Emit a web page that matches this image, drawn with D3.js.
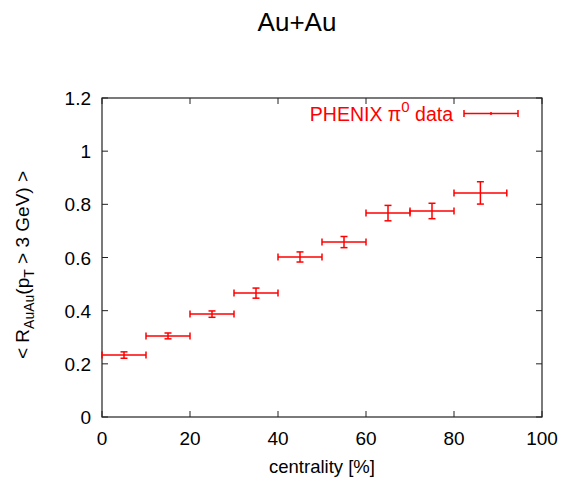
<!DOCTYPE html>
<html><head><meta charset="utf-8">
<script src="https://cdn.jsdelivr.net/npm/d3@7"></script>
<style>body{margin:0;background:#fff}svg{display:block}text{font-family:"Liberation Sans",Arial,sans-serif}</style>
</head><body><svg id="c" width="563" height="477"></svg>
<script>
const xCenter = [5, 15, 25, 35, 45, 55, 65, 75, 86];
const xLow    = [0, 10, 20, 30, 40, 50, 60, 70, 80];
const xHigh   = [10, 20, 30, 40, 50, 60, 70, 80, 92];
const yValue  = [0.233, 0.305, 0.387, 0.466, 0.602, 0.658, 0.767, 0.775, 0.843];
const yError  = [0.012, 0.011, 0.012, 0.019, 0.019, 0.021, 0.029, 0.029, 0.042];
const xTicks = [0, 20, 40, 60, 80, 100];
const yTicks = [0, 0.2, 0.4, 0.6, 0.8, 1, 1.2];

const svg = d3.select("#c");
const L = 102, R = 542, T = 98, B = 417;
const x = d3.scaleLinear().domain([0, 100]).range([L, R]);
const y = d3.scaleLinear().domain([0, 1.2]).range([B, T]);
const frame = "#222";
const red = "#ff0000";

svg.append("rect").attr("x", L).attr("y", T).attr("width", R - L).attr("height", B - T)
  .attr("fill", "none").attr("stroke", frame).attr("stroke-width", 1.2);

const tl = 6;
xTicks.forEach(t => {
  svg.append("line").attr("x1", x(t)).attr("x2", x(t)).attr("y1", B).attr("y2", B - tl).attr("stroke", frame);
  svg.append("line").attr("x1", x(t)).attr("x2", x(t)).attr("y1", T).attr("y2", T + tl).attr("stroke", frame);
  svg.append("text").attr("x", x(t)).attr("y", B + 28).attr("text-anchor", "middle")
    .attr("font-size", 19).attr("fill", "#000").text(t);
});
yTicks.forEach(t => {
  svg.append("line").attr("x1", L).attr("x2", L + tl).attr("y1", y(t)).attr("y2", y(t)).attr("stroke", frame);
  svg.append("line").attr("x1", R).attr("x2", R - tl).attr("y1", y(t)).attr("y2", y(t)).attr("stroke", frame);
  svg.append("text").attr("x", L - 11).attr("y", y(t) + 7).attr("text-anchor", "end")
    .attr("font-size", 19).attr("fill", "#000").text(t);
});

const g = svg.append("g").attr("stroke", red).attr("stroke-width", 1.5).attr("fill", "none");
const cap = 3.5;
xCenter.forEach((xc, i) => {
  const yv = y(yValue[i]);
  g.append("line").attr("x1", x(xLow[i])).attr("x2", x(xHigh[i])).attr("y1", yv).attr("y2", yv);
  g.append("line").attr("x1", x(xLow[i])).attr("x2", x(xLow[i])).attr("y1", yv - cap).attr("y2", yv + cap);
  g.append("line").attr("x1", x(xHigh[i])).attr("x2", x(xHigh[i])).attr("y1", yv - cap).attr("y2", yv + cap);
  const y1 = y(yValue[i] - yError[i]), y2 = y(yValue[i] + yError[i]);
  g.append("line").attr("x1", x(xc)).attr("x2", x(xc)).attr("y1", y1).attr("y2", y2);
  g.append("line").attr("x1", x(xc) - cap).attr("x2", x(xc) + cap).attr("y1", y1).attr("y2", y1);
  g.append("line").attr("x1", x(xc) - cap).attr("x2", x(xc) + cap).attr("y1", y2).attr("y2", y2);
});

const ly = 113.5, lx1 = 464, lx2 = 518;
g.append("line").attr("x1", lx1).attr("x2", lx2).attr("y1", ly).attr("y2", ly);
g.append("line").attr("x1", lx1).attr("x2", lx1).attr("y1", ly - cap).attr("y2", ly + cap);
g.append("line").attr("x1", lx2).attr("x2", lx2).attr("y1", ly - cap).attr("y2", ly + cap);
g.append("line").attr("x1", (lx1 + lx2) / 2).attr("x2", (lx1 + lx2) / 2).attr("y1", ly - 1.5).attr("y2", ly + 1.5);
const lt = svg.append("text").attr("x", 453).attr("y", ly + 7).attr("text-anchor", "end")
  .attr("font-size", 19.5).attr("fill", red);
lt.append("tspan").text("PHENIX π");
lt.append("tspan").attr("dy", -9).attr("font-size", 15).text("0");
lt.append("tspan").attr("dy", 9).text(" data");

svg.append("text").attr("x", 297).attr("y", 31).attr("text-anchor", "middle")
  .attr("font-size", 26).attr("fill", "#000").text("Au+Au");

svg.append("text").attr("x", 322).attr("y", 473).attr("text-anchor", "middle")
  .attr("font-size", 18.5).attr("fill", "#000").text("centrality [%]");

const yl = svg.append("text").attr("transform", "translate(29,265) rotate(-90)")
  .attr("text-anchor", "middle").attr("font-size", 19).attr("fill", "#000");
yl.append("tspan").text("< R");
yl.append("tspan").attr("dy", 5).attr("font-size", 14).text("AuAu");
yl.append("tspan").attr("dy", -5).text("(p");
yl.append("tspan").attr("dy", 5).attr("font-size", 14).text("T");
yl.append("tspan").attr("dy", -5).text(" > 3 GeV) >");
</script></body></html>
